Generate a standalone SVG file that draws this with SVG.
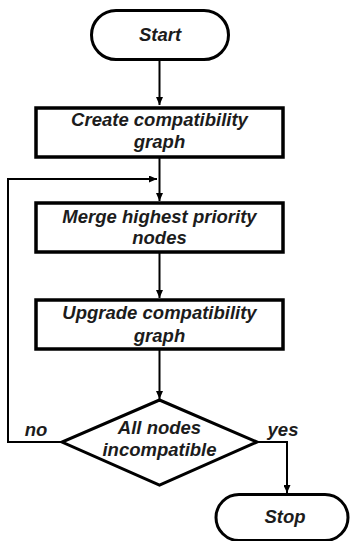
<svg xmlns="http://www.w3.org/2000/svg" width="350" height="541" viewBox="0 0 350 541">
<style>
.box{fill:#fff;stroke:#000;stroke-width:3.5}
.term{fill:#fff;stroke:#000;stroke-width:3}
.t{font-family:"Liberation Sans",Arial,sans-serif;font-weight:bold;font-style:italic;font-size:18.5px;fill:#1c1c1c;text-anchor:middle}
.c{fill:none;stroke:#000;stroke-width:2}
</style>
<defs>
<marker id="ah" markerWidth="8" markerHeight="7" refX="8" refY="3.5" orient="auto" markerUnits="userSpaceOnUse">
<path d="M0,0 L8,3.5 L0,7 z" fill="#000"/>
</marker>
</defs>
<g id="connectors">
<line class="c" x1="159.5" y1="60" x2="159.5" y2="105" marker-end="url(#ah)"/>
<line class="c" x1="159.5" y1="157" x2="159.5" y2="201" marker-end="url(#ah)"/>
<line class="c" x1="159.5" y1="253" x2="159.5" y2="298" marker-end="url(#ah)"/>
<line class="c" x1="159.5" y1="350" x2="159.5" y2="399" marker-end="url(#ah)"/>
<polyline class="c" points="62,442 8,442 8,179 157,179" marker-end="url(#ah)"/>
<polyline class="c" points="257,442 287,442 287,493" marker-end="url(#ah)"/>
<text class="t" x="36" y="436">no</text>
<text class="t" x="283" y="436">yes</text>
</g>
<g id="start">
<rect class="term" x="91.5" y="10.5" width="137" height="49" rx="24.5"/>
<text class="t" x="160" y="41">Start</text>
</g>
<g id="create">
<rect class="box" x="36" y="108" width="247" height="49"/>
<text class="t" x="159.5" y="126">Create compatibility</text>
<text class="t" x="159.5" y="148">graph</text>
</g>
<g id="merge">
<rect class="box" x="36" y="203" width="247" height="49"/>
<text class="t" x="159.5" y="223">Merge highest priority</text>
<text class="t" x="159.5" y="244">nodes</text>
</g>
<g id="upgrade">
<rect class="box" x="36" y="300" width="247" height="49"/>
<text class="t" x="159.5" y="319">Upgrade compatibility</text>
<text class="t" x="159.5" y="342">graph</text>
</g>
<g id="decision">
<polygon class="term" points="159.5,400 257,442 159.5,485 62,442"/>
<text class="t" x="159.5" y="434">All nodes</text>
<text class="t" x="159.5" y="456">incompatible</text>
</g>
<g id="stop">
<rect class="term" x="216" y="494.5" width="132" height="46" rx="23"/>
<text class="t" x="285" y="523">Stop</text>
</g>
</svg>
